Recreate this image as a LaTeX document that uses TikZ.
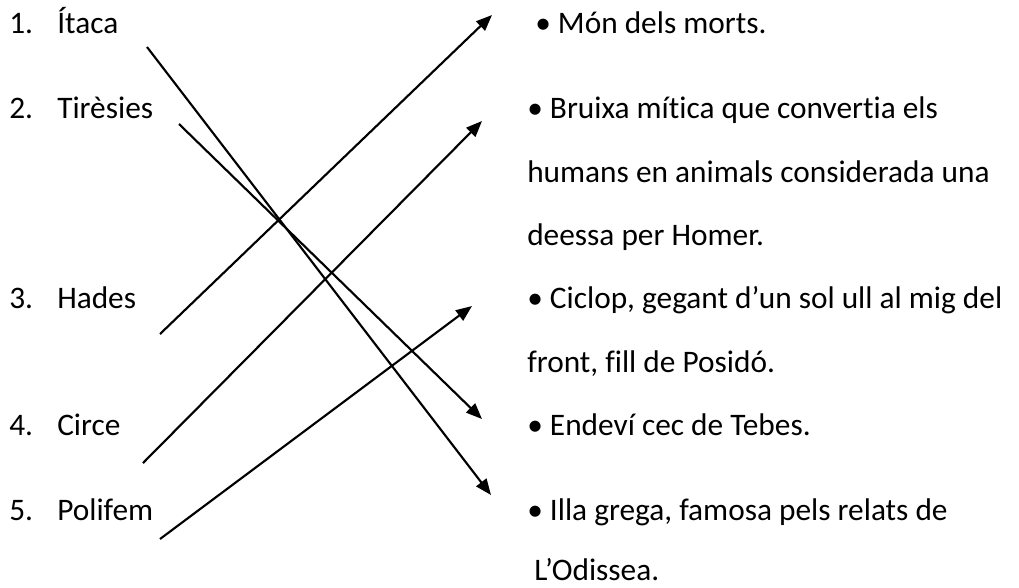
\documentclass[tikz,border=0pt]{standalone}
\usepackage{fontspec}
\setmainfont{Carlito}[Ligatures={NoCommon}]
\usetikzlibrary{arrows.meta}

\tikzset{
  txt/.style={anchor=base west, inner sep=0pt, font=\fontsize{23.5}{28}\selectfont},
  link/.style={line width=1.6pt, -{Triangle[length=12pt,width=9.5pt]}}
}

\begin{document}
\begin{tikzpicture}[x=0.75pt,y=0.75pt,yscale=-1,xscale=1]
\useasboundingbox (0,0) rectangle (1019,587);

% Text Node
\node [txt] (n1) at (9,33) {1.};
\node [txt] (l1) at (57,33) {Ítaca};
\node [txt] (n2) at (9,118) {2.};
\node [txt] (l2) at (57,118) {Tirèsies};
\node [txt] (n3) at (9,308) {3.};
\node [txt] (l3) at (57,308) {Hades};
\node [txt] (n4) at (9,435) {4.};
\node [txt] (l4) at (57,435) {Circe};
\node [txt] (n5) at (9,520) {5.};
\node [txt] (l5) at (57,520) {Polifem};

% Text Node
\node [txt] (r1) at (535,33) {• Món dels morts.};
\node [txt] (r2) at (527,118) {• Bruixa mítica que convertia els};
\node [txt] (r2b) at (527,182) {humans en animals considerada una};
\node [txt] (r2c) at (527,245) {deessa per Homer.};
\node [txt] (r3) at (527,308) {• Ciclop, gegant d’un sol ull al mig del};
\node [txt] (r3b) at (527,372) {front, fill de Posidó.};
\node [txt] (r4) at (527,435) {• Endeví cec de Tebes.};
\node [txt] (r5) at (527,520) {• Illa grega, famosa pels relats de};
\node [txt] (r5b) at (534,580) {L’Odissea.};

%Straight Lines
\coordinate (s1) at (147,47);  \coordinate (e1) at (491,495);
\coordinate (s2) at (179,124); \coordinate (e2) at (482,419);
\coordinate (s3) at (160,334); \coordinate (e3) at (492,15);
\coordinate (s4) at (143,463); \coordinate (e4) at (482,121);
\coordinate (s5) at (160,539); \coordinate (e5) at (472,306);
\draw [link] (s1) -- (e1);
\draw [link] (s2) -- (e2);
\draw [link] (s3) -- (e3);
\draw [link] (s4) -- (e4);
\draw [link] (s5) -- (e5);

\end{tikzpicture}
\end{document}
